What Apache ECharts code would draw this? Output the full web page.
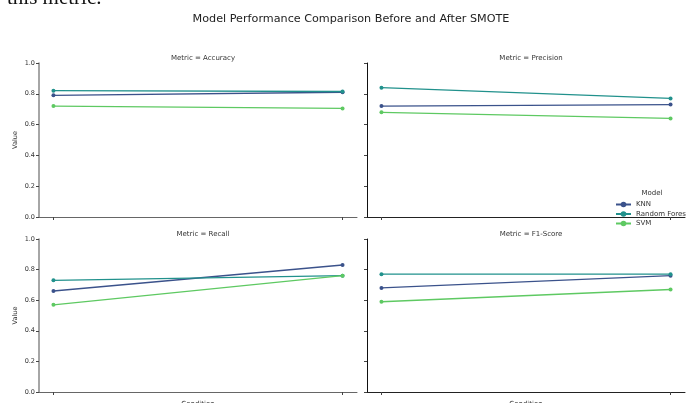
<!DOCTYPE html>
<html>
<head>
<meta charset="utf-8">
<script src="https://cdn.jsdelivr.net/npm/echarts@6/dist/echarts.min.js"></script>
<style>
html,body{margin:0;padding:0;background:#fff;}
#chart{width:686px;height:403px;}
</style>
</head>
<body>
<div id="chart"></div>
<script>
const conditions = ['Before SMOTE', 'After SMOTE'];
const metrics = ['Accuracy', 'Precision', 'Recall', 'F1-Score'];
const models = ['KNN', 'Random Forest', 'SVM'];
// values per metric: [before, after]
const knnValues = [[0.79, 0.81], [0.72, 0.73], [0.66, 0.83], [0.68, 0.76]];
const rfValues  = [[0.82, 0.815], [0.84, 0.77], [0.73, 0.76], [0.77, 0.77]];
const svmValues = [[0.72, 0.705], [0.68, 0.64], [0.57, 0.76], [0.59, 0.67]];
const yTicks = [0, 0.2, 0.4, 0.6, 0.8, 1.0];

const modelValues = [knnValues, rfValues, svmValues];
const colors = ['#3b528b', '#21918c', '#5ec962'];
const FONT = 'DejaVu Sans';
const SMALL = 6.5;

const grids = [
  {left: 39, top: 63, width: 318, height: 154, outerBoundsMode: 'none', containLabel: false},
  {left: 367, top: 63, width: 318, height: 154, outerBoundsMode: 'none', containLabel: false},
  {left: 39, top: 239, width: 318, height: 153, outerBoundsMode: 'none', containLabel: false},
  {left: 367, top: 239, width: 318, height: 153, outerBoundsMode: 'none', containLabel: false}
];

const xAxes = grids.map((g, i) => ({
  type: 'value', gridIndex: i, min: -0.05, max: 1.05,
  splitLine: {show: false},
  axisLine: {onZero: false, lineStyle: {color: i % 2 === 0 ? '#666' : '#222', width: 1}},
  axisTick: {show: true, customValues: [0, 1], length: 3, lineStyle: {color: '#444'}},
  axisLabel: {show: false, customValues: [0, 1], formatter: v => conditions[Math.round(v)], fontSize: SMALL, fontFamily: FONT, color: '#333', margin: 4},
  name: i >= 2 ? 'Condition' : '', nameLocation: 'middle', nameGap: 9,
  nameTextStyle: {fontSize: 7, fontFamily: FONT, color: '#333'}
}));

const yAxes = grids.map((g, i) => ({
  type: 'value', gridIndex: i, min: 0, max: 1, interval: 0.2,
  splitLine: {show: false},
  axisLine: {show: true, onZero: false, lineStyle: {color: i % 2 === 0 ? '#888' : '#111', width: i % 2 === 0 ? 1.5 : 1}},
  axisTick: {show: true, length: 3, lineStyle: {color: '#444'}},
  axisLabel: {show: i % 2 === 0, formatter: v => v.toFixed(1), fontSize: SMALL, fontFamily: FONT, color: '#333', margin: 4},
  name: i % 2 === 0 ? 'Value' : '', nameLocation: 'middle', nameRotate: 90, nameGap: 20,
  nameTextStyle: {fontSize: 6.5, fontFamily: FONT, color: '#333'}
}));

const series = [];
metrics.forEach((m, mi) => {
  models.forEach((model, k) => {
    series.push({
      name: model, type: 'line', xAxisIndex: mi, yAxisIndex: mi,
      data: conditions.map((c, ci) => [ci, modelValues[k][mi][ci]]),
      symbol: 'circle', symbolSize: 4,
      itemStyle: {color: colors[k]},
      lineStyle: {color: colors[k], width: 1.3},
      emphasis: {disabled: true}, animation: false
    });
  });
});

const titles = [
  {text: 'Model Performance Comparison Before and After SMOTE', left: 346, top: 9, textAlign: 'center',
   textStyle: {fontSize: 11.2, fontWeight: 'normal', fontFamily: FONT, color: '#222'}}
];
metrics.forEach((m, mi) => {
  const g = grids[mi];
  titles.push({text: 'Metric = ' + m, left: g.left + g.width / 2, top: g.top - 13, textAlign: 'center',
    textStyle: {fontSize: 7, fontWeight: 'normal', fontFamily: FONT, color: '#333'}});
});

const chart = echarts.init(document.getElementById('chart'), null, {renderer: 'canvas'});
chart.setOption({
  animation: false,
  backgroundColor: '#fff',
  title: titles,
  grid: grids,
  xAxis: xAxes,
  yAxis: yAxes,
  legend: {
    data: models, orient: 'vertical', left: 610, top: 196,
    itemWidth: 15, itemHeight: 7, itemGap: 2.5, padding: 5,
    textStyle: {fontSize: 7, fontFamily: FONT, color: '#333'}
  },
  graphic: [
    {type: 'text', x: 652, y: 193, style: {text: 'Model', fontSize: 7, fontFamily: FONT, fill: '#333', align: 'center', verticalAlign: 'middle'}},
    {type: 'text', x: 7, y: -2, style: {text: 'this metric.', fontSize: 21, fontFamily: 'Liberation Serif', fill: '#111', verticalAlign: 'middle'}}
  ],
  series: series
});
</script>
</body>
</html>
